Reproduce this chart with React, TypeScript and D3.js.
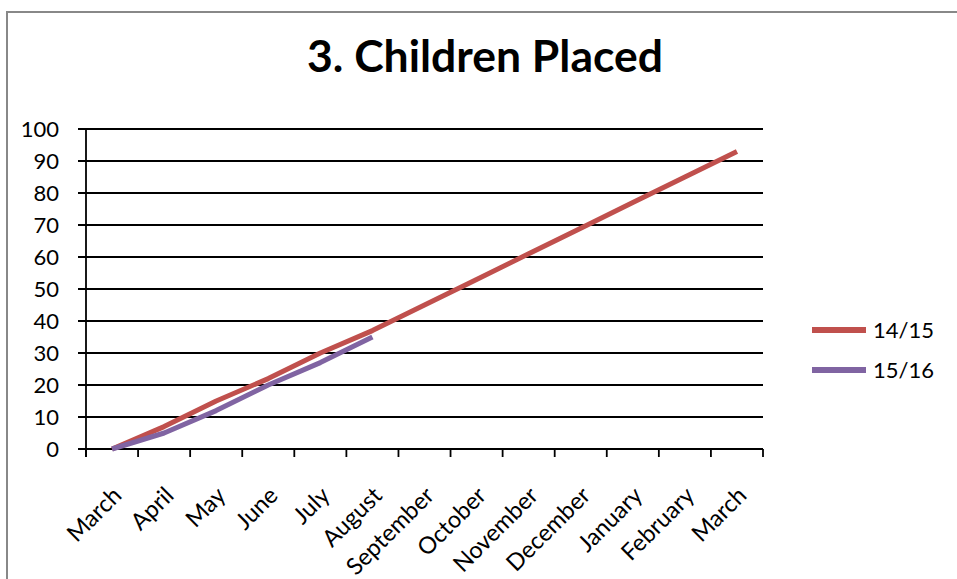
import React from "react";
import * as d3 from "d3";

const months = ["March", "April", "May", "June", "July", "August", "September", "October", "November", "December", "January", "February", "March"];
const series1415 = [0, 7, 15, 22, 30, 37, 45, 53, 61, 69, 77, 85, 93];
const series1516 = [0, 5, 12, 20, 27, 35];
const yTicks = [0, 10, 20, 30, 40, 50, 60, 70, 80, 90, 100];

const seriesList = [
  { name: "14/15", values: series1415, color: "#C0504D" },
  { name: "15/16", values: series1516, color: "#8064A2" },
];

const W = 957;
const H = 579;
const font = "Lato, 'Open Sans', sans-serif";

function App() {
  const left = 86, right = 763, top = 129, bottom = 449;
  const keys = months.map((m, i) => i);
  const x = d3.scaleBand<number>().domain(keys).range([left, right]);
  const y = d3.scaleLinear().domain([0, 100]).range([bottom, top]);
  const line = d3.line<number>()
    .x((d, i) => (x(i) as number) + x.bandwidth() / 2)
    .y(d => y(d));

  const bounds = keys.map(i => x(i) as number).concat([right]);

  return (
    <svg width={W} height={H} style={{ position: "absolute", left: 0, top: 0, background: "#fff" }}>
      <rect x={7} y={12} width={W + 10} height={H + 10} fill="#fff" stroke="#888" strokeWidth={2} />
      <text x={307} y={72} textLength={356} lengthAdjust="spacingAndGlyphs" fontFamily={font} fontWeight="bold" fontSize={44}>3. Children Placed</text>

      {/* gridlines + y ticks */}
      {yTicks.map(t => (
        <g key={t}>
          <line x1={78} x2={right} y1={y(t)} y2={y(t)} stroke="#000" strokeWidth={1.8} />
          <text x={59} y={y(t)} dy="0.36em" textAnchor="end" fontFamily={font} fontSize={22}>{t}</text>
        </g>
      ))}
      <line x1={left} x2={left} y1={top} y2={bottom + 8} stroke="#000" strokeWidth={1.8} />
      {bounds.map((b, i) => (
        <line key={i} x1={b} x2={b} y1={bottom} y2={bottom + 8} stroke="#000" strokeWidth={1.8} />
      ))}

      {/* x labels */}
      {months.map((m, i) => {
        const cx = (x(i) as number) + x.bandwidth() / 2 + 11;
        const cy = bottom + 48;
        return (
          <text key={i} x={cx} y={cy} textAnchor="end" fontFamily={font} fontSize={23.5}
            transform={`rotate(-45, ${cx}, ${cy})`}>{m}</text>
        );
      })}

      {seriesList.map(s => (
        <path key={s.name} d={line(s.values) || ""} fill="none" stroke={s.color} strokeWidth={5} strokeLinejoin="round" />
      ))}

      {/* legend */}
      {seriesList.map((s, i) => (
        <g key={s.name} transform={`translate(812, ${330 + i * 40})`}>
          <line x1={0} x2={54} y1={0} y2={0} stroke={s.color} strokeWidth={6} />
          <text x={61} y={0} dy="0.36em" fontFamily={font} fontSize={22}>{s.name}</text>
        </g>
      ))}
    </svg>
  );
}

export default App;
